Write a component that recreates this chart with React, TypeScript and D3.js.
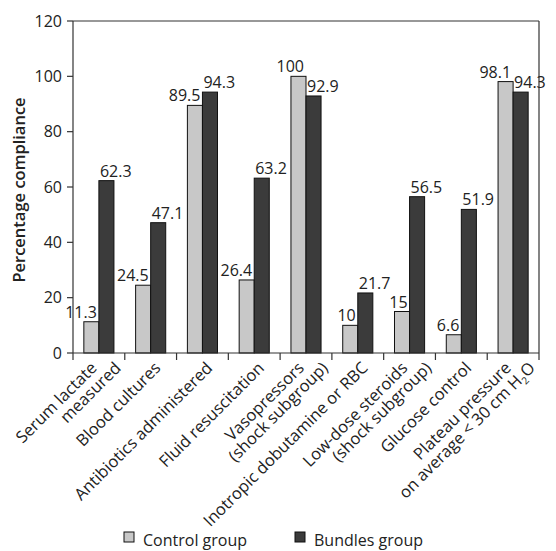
import React from "react";
import * as d3 from "d3";

const categories: string[][] = [
  ["Serum lactate", "measured"],
  ["Blood cultures"],
  ["Antibiotics administered"],
  ["Fluid resuscitation"],
  ["Vasopressors", "(shock subgroup)"],
  ["Inotropic dobutamine or RBC"],
  ["Low-dose steroids", "(shock subgroup)"],
  ["Glucose control"],
  ["Plateau pressure", "on average < 30 cm H2O"],
];
const controlValues = [11.3, 24.5, 89.5, 26.4, 100, 10, 15, 6.6, 98.1];
const bundlesValues = [62.3, 47.1, 94.3, 63.2, 92.9, 21.7, 56.5, 51.9, 94.3];
const yTicks = [0, 20, 40, 60, 80, 100, 120];
const seriesNames = ["Control group", "Bundles group"];
const seriesColors = ["#c8c8c8", "#3b3b3b"];

const W = 556;
const H = 551;
const left = 73;
const right = 539;
const top = 21;
const bottom = 353;
const FONT = "'Open Sans', sans-serif";
const FS = 16;

function renderLine(line: string) {
  if (line.endsWith("H2O")) {
    const base = line.slice(0, -3);
    return (
      <>
        {base}H
        <tspan fontSize={10} dy={4}>2</tspan>
        <tspan dy={-4}>O</tspan>
      </>
    );
  }
  return line;
}

export default function App() {
  const idx = categories.map((_, i) => i);
  const x0 = d3.scaleBand<number>().domain(idx).range([left, right]).paddingInner(0).paddingOuter(0);
  const x1 = d3.scaleBand<number>().domain([0, 1]).range([0, x0.bandwidth()]).paddingInner(0).paddingOuter(0.72);
  const y = d3.scaleLinear().domain([0, 120]).range([bottom, top]);
  const series = [controlValues, bundlesValues];
  const boundaries = idx.map((i) => x0(i)!).concat([right]);

  return (
    <svg width={W} height={H} style={{ position: "absolute", left: 0, top: 0, background: "#fff" }} fontFamily={FONT}>
      {/* frame */}
      <line x1={left} x2={right} y1={top} y2={top} stroke="#333" strokeWidth={1.2} />
      <line x1={right} x2={right} y1={top} y2={bottom} stroke="#333" strokeWidth={1.2} />
      {/* bars */}
      {idx.map((i) =>
        series.map((vals, s) => (
          <rect
            key={`${i}-${s}`}
            x={x0(i)! + x1(s)!}
            y={y(vals[i])}
            width={x1.bandwidth()}
            height={bottom - y(vals[i])}
            fill={seriesColors[s]}
            stroke="#111"
            strokeWidth={1}
          />
        ))
      )}
      {/* value labels */}
      {idx.map((i) =>
        series.map((vals, s) => {
          const bx = x0(i)! + x1(s)!;
          const tx = s === 0 ? bx + x1.bandwidth() - 2 : bx + 1;
          return (
            <text
              key={`l-${i}-${s}`}
              x={tx}
              y={y(vals[i]) - 4}
              textAnchor={s === 0 ? "end" : "start"}
              fontSize={FS}
              fill="#222"
            >
              {vals[i]}
            </text>
          );
        })
      )}
      {/* y axis */}
      <line x1={left} x2={left} y1={top} y2={bottom} stroke="#333" strokeWidth={1.2} />
      {yTicks.map((t) => (
        <g key={t}>
          <line x1={left - 6} x2={left} y1={y(t)} y2={y(t)} stroke="#333" strokeWidth={1.2} />
          <text x={left - 11} y={y(t)} dy="0.35em" textAnchor="end" fontSize={FS} fill="#222">
            {t}
          </text>
        </g>
      ))}
      <text
        transform={`translate(25, ${(top + bottom) / 2 + 3}) rotate(-90)`}
        textAnchor="middle"
        fontSize={16.5}
        fontWeight={600}
        fill="#222"
      >
        Percentage compliance
      </text>
      {/* x axis */}
      <line x1={left} x2={right} y1={bottom} y2={bottom} stroke="#333" strokeWidth={1.2} />
      {boundaries.map((b, k) => (
        <line key={k} x1={b} x2={b} y1={bottom} y2={bottom + 7} stroke="#333" strokeWidth={1.2} />
      ))}
      {categories.map((lines, i) => {
        const cx = x0(i)! + x0.bandwidth() / 2;
        const n = lines.length;
        return lines.map((ln, k) => {
          const ax = cx + 11 + (k - (n - 1) / 2) * 24;
          const ay = 369;
          return (
            <text
              key={`x-${i}-${k}`}
              transform={`translate(${ax}, ${ay}) rotate(-45)`}
              textAnchor="end"
              fontSize={FS + 0.5}
              fill="#222"
            >
              {renderLine(ln)}
            </text>
          );
        });
      })}
      {/* legend */}
      {seriesNames.map((name, s) => {
        const lx = s === 0 ? 124 : 295;
        return (
          <g key={name}>
            <rect x={lx} y={532} width={10} height={10} fill={seriesColors[s]} stroke="#111" strokeWidth={1} />
            <text x={lx + 19} y={545.5} fontSize={FS} fill="#222">
              {name}
            </text>
          </g>
        );
      })}
    </svg>
  );
}
